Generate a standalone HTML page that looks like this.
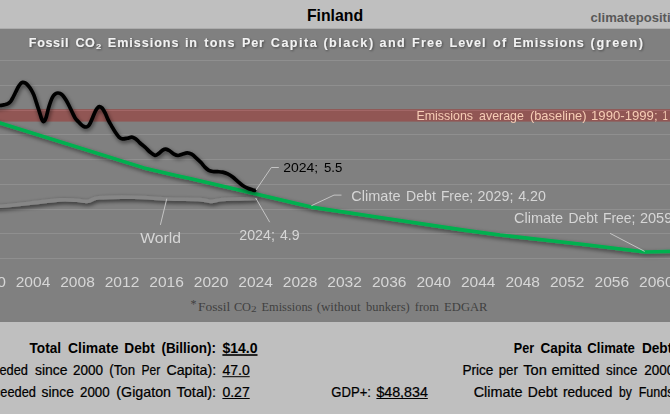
<!DOCTYPE html>
<html lang="en"><head><meta charset="utf-8"><title>Finland</title>
<style>html,body{margin:0;padding:0;background:#bfbfbf;overflow:hidden}body{width:670px;height:414px}svg text{white-space:pre}</style>
</head><body>
<svg width="670" height="414" viewBox="0 0 670 414" style="display:block">
<defs>
<filter id="sh" x="-5%" y="-20%" width="110%" height="150%"><feGaussianBlur in="SourceAlpha" stdDeviation="2"/><feOffset dx="0.5" dy="2.2"/><feComponentTransfer><feFuncA type="linear" slope="0.55"/></feComponentTransfer><feMerge><feMergeNode/><feMergeNode in="SourceGraphic"/></feMerge></filter>
<filter id="shw" x="-5%" y="-100%" width="110%" height="300%"><feGaussianBlur in="SourceAlpha" stdDeviation="1.9"/><feOffset dx="0.5" dy="1.5"/><feComponentTransfer><feFuncA type="linear" slope="0.72"/></feComponentTransfer><feMerge><feMergeNode/><feMergeNode in="SourceGraphic"/></feMerge></filter>
<filter id="sht" x="-2%" y="-30%" width="104%" height="180%"><feGaussianBlur in="SourceAlpha" stdDeviation="1.1"/><feOffset dx="0.6" dy="1.2"/><feComponentTransfer><feFuncA type="linear" slope="0.45"/></feComponentTransfer><feMerge><feMergeNode/><feMergeNode in="SourceGraphic"/></feMerge></filter>
<filter id="gs" x="0" y="0" width="100%" height="100%" filterUnits="userSpaceOnUse" primitiveUnits="userSpaceOnUse"><feOffset dx="0" dy="0"/></filter>
</defs>
<rect x="0" y="0" width="670" height="414" fill="#bfbfbf"/>
<rect x="0" y="28.7" width="670" height="293.3" fill="#808080"/>
<rect x="0" y="60" width="670" height="1" fill="#8f8f8f"/>
<rect x="0" y="85" width="670" height="1" fill="#8f8f8f"/>
<rect x="0" y="110" width="670" height="1" fill="#8f8f8f"/>
<rect x="0" y="134" width="670" height="1" fill="#8f8f8f"/>
<rect x="0" y="159" width="670" height="1" fill="#8f8f8f"/>
<rect x="0" y="184" width="670" height="1" fill="#8f8f8f"/>
<rect x="0" y="209" width="670" height="1" fill="#8f8f8f"/>
<rect x="0" y="233" width="670" height="1" fill="#8f8f8f"/>
<rect x="0" y="258" width="670" height="1" fill="#8f8f8f"/>
<rect x="-5" y="109.1" width="680" height="12.5" fill="#915654"/>
<rect x="0" y="110" width="670" height="1" fill="#a26666"/>
<path d="M-11.50,206.80 C-9.58,206.72 -6.92,206.90 0.00,206.30 C6.92,205.70 20.00,204.27 30.00,203.20 C40.00,202.13 52.17,200.38 60.00,199.90 C67.83,199.42 72.37,200.07 77.00,200.30 C81.63,200.53 84.13,201.72 87.80,201.30 C91.47,200.88 91.30,198.48 99.00,197.80 C106.70,197.12 122.50,197.00 134.00,197.20 C145.50,197.40 157.00,198.60 168.00,199.00 C179.00,199.40 192.83,199.20 200.00,199.60 C207.17,200.00 207.33,201.42 211.00,201.40 C214.67,201.38 217.17,199.92 222.00,199.50 C226.83,199.08 234.40,199.07 240.00,198.90 C245.60,198.73 253.00,198.57 255.60,198.50" fill="none" stroke="#868686" stroke-width="3.6" stroke-linecap="round" stroke-linejoin="round" filter="url(#shw)"/>
<path d="M-11.50,119.40 L0.00,123.00 L144.00,167.90 L176.00,175.40 L190.00,178.60 L254.00,193.40 L311.30,207.10 L380.00,217.50 L464.00,230.10 L500.00,235.00 L584.00,244.50 L645.20,252.00 L680.00,251.20" fill="none" stroke="#00b050" stroke-width="3.6" stroke-linecap="round" stroke-linejoin="round" filter="url(#sh)"/>
<path d="M-11.50,108.50 C-9.58,108.00 -2.55,106.10 0.00,105.50 C2.55,104.90 2.55,105.17 3.80,104.90 C5.05,104.63 6.35,104.48 7.50,103.90 C8.65,103.32 9.75,102.55 10.70,101.40 C11.65,100.25 12.37,98.57 13.20,97.00 C14.03,95.43 14.87,93.67 15.70,92.00 C16.53,90.33 17.37,88.43 18.20,87.00 C19.03,85.57 19.97,84.18 20.70,83.40 C21.43,82.62 21.87,82.38 22.60,82.30 C23.33,82.22 24.15,82.33 25.10,82.90 C26.05,83.47 27.25,84.50 28.30,85.70 C29.35,86.90 30.47,88.53 31.40,90.10 C32.33,91.67 33.07,93.00 33.90,95.10 C34.73,97.20 35.57,100.18 36.40,102.70 C37.23,105.22 38.07,107.62 38.90,110.20 C39.73,112.78 40.62,116.30 41.40,118.20 C42.18,120.10 42.85,121.60 43.60,121.60 C44.35,121.60 45.12,120.32 45.90,118.20 C46.68,116.08 47.47,111.80 48.30,108.90 C49.13,106.00 50.05,102.98 50.90,100.80 C51.75,98.62 52.57,97.02 53.40,95.80 C54.23,94.58 55.17,93.97 55.90,93.50 C56.63,93.03 57.12,93.02 57.80,93.00 C58.48,92.98 59.20,93.02 60.00,93.40 C60.80,93.78 61.60,94.20 62.60,95.30 C63.60,96.40 64.90,98.22 66.00,100.00 C67.10,101.78 68.15,103.92 69.20,106.00 C70.25,108.08 71.32,110.52 72.30,112.50 C73.28,114.48 74.12,116.38 75.10,117.90 C76.08,119.42 77.18,120.47 78.20,121.60 C79.22,122.73 80.27,123.88 81.20,124.70 C82.13,125.52 82.97,126.12 83.80,126.50 C84.63,126.88 85.45,127.08 86.20,127.00 C86.95,126.92 87.63,126.63 88.30,126.00 C88.97,125.37 89.43,124.70 90.20,123.20 C90.97,121.70 91.97,119.13 92.90,117.00 C93.83,114.87 94.97,111.98 95.80,110.40 C96.63,108.82 97.28,108.13 97.90,107.50 C98.52,106.87 98.80,106.52 99.50,106.60 C100.20,106.68 101.15,106.90 102.10,108.00 C103.05,109.10 104.17,111.18 105.20,113.20 C106.23,115.22 107.25,118.00 108.30,120.10 C109.35,122.20 110.35,123.80 111.50,125.80 C112.65,127.80 113.95,130.22 115.20,132.10 C116.45,133.98 117.78,135.97 119.00,137.10 C120.22,138.23 121.08,138.72 122.50,138.90 C123.92,139.08 125.95,138.50 127.50,138.20 C129.05,137.90 130.50,137.03 131.80,137.10 C133.10,137.17 134.35,138.05 135.30,138.60 C136.25,139.15 136.72,139.67 137.50,140.40 C138.28,141.13 138.75,141.88 140.00,143.00 C141.25,144.12 143.33,145.60 145.00,147.10 C146.67,148.60 148.35,150.63 150.00,152.00 C151.65,153.37 153.42,155.07 154.90,155.30 C156.38,155.53 157.60,154.27 158.90,153.40 C160.20,152.53 161.55,150.82 162.70,150.10 C163.85,149.38 164.65,148.98 165.80,149.10 C166.95,149.22 168.23,149.95 169.60,150.80 C170.97,151.65 172.60,153.42 174.00,154.20 C175.40,154.98 176.63,155.48 178.00,155.50 C179.37,155.52 180.67,154.73 182.20,154.30 C183.73,153.87 185.63,152.92 187.20,152.90 C188.77,152.88 190.03,153.30 191.60,154.20 C193.17,155.10 195.03,156.90 196.60,158.30 C198.17,159.70 199.58,161.08 201.00,162.60 C202.42,164.12 203.80,166.12 205.10,167.40 C206.40,168.68 207.52,169.62 208.80,170.30 C210.08,170.98 211.33,171.27 212.80,171.50 C214.27,171.73 215.97,171.60 217.60,171.70 C219.23,171.80 220.92,171.73 222.60,172.10 C224.28,172.47 226.02,173.08 227.70,173.90 C229.38,174.72 231.03,175.75 232.70,177.00 C234.37,178.25 236.03,179.98 237.70,181.40 C239.37,182.82 241.02,184.35 242.70,185.50 C244.38,186.65 246.12,187.57 247.80,188.30 C249.48,189.03 251.67,189.55 252.80,189.90 C253.93,190.25 254.30,190.32 254.60,190.40" fill="none" stroke="#000" stroke-width="3.7" stroke-linecap="round" stroke-linejoin="round" filter="url(#sh)"/>
<path d="M256,190 L271.3,167.5 H278.8" stroke="#c4c4c4" stroke-width="1" fill="none"/>
<path d="M311.4,205.7 L334,195.1 H341.5" stroke="#c4c4c4" stroke-width="1" fill="none"/>
<path d="M166.8,198.6 L160.4,224.9" stroke="#c4c4c4" stroke-width="1" fill="none"/>
<path d="M255.7,198 L269.7,222.2" stroke="#c4c4c4" stroke-width="1" fill="none"/>
<path d="M610,233.3 L644.7,251.4" stroke="#c4c4c4" stroke-width="1" fill="none"/>
<text y="21.0" font-family='"Liberation Sans", sans-serif' font-size="17" font-weight="bold" fill="#000" ><tspan x="306.9" textLength="56.2" lengthAdjust="spacingAndGlyphs">Finland</tspan></text>
<text y="21.6" font-family='"Liberation Sans", sans-serif' font-size="13.5" font-weight="bold" fill="#595959" ><tspan x="590.6" textLength="133.8" lengthAdjust="spacingAndGlyphs">climatepositions.com</tspan></text>
<text y="47.3" font-family='"Liberation Sans", sans-serif' font-size="12.6" font-weight="bold" fill="#f2f2f2" filter="url(#sht)"><tspan x="28.8" textLength="39.6" lengthAdjust="spacing">Fossil</tspan> <tspan x="75.6" textLength="19.3" lengthAdjust="spacing">CO</tspan><tspan x="95.9" dy="1.3" font-size="7.4" textLength="5.3" lengthAdjust="spacingAndGlyphs">2</tspan><tspan dy="-1.3" font-size="1"> </tspan> <tspan x="107.8" textLength="70.7" lengthAdjust="spacing">Emissions</tspan> <tspan x="185.0" textLength="12.0" lengthAdjust="spacing">in</tspan> <tspan x="204.3" textLength="30.1" lengthAdjust="spacing">tons</tspan> <tspan x="242.0" textLength="22.0" lengthAdjust="spacing">Per</tspan> <tspan x="270.8" textLength="45.9" lengthAdjust="spacing">Capita</tspan> <tspan x="323.4" textLength="49.7" lengthAdjust="spacing">(black)</tspan> <tspan x="379.6" textLength="25.1" lengthAdjust="spacing">and</tspan> <tspan x="412.0" textLength="30.3" lengthAdjust="spacing">Free</tspan> <tspan x="449.6" textLength="35.8" lengthAdjust="spacing">Level</tspan> <tspan x="493.0" textLength="13.3" lengthAdjust="spacing">of</tspan> <tspan x="513.2" textLength="70.6" lengthAdjust="spacing">Emissions</tspan> <tspan x="590.6" textLength="52.3" lengthAdjust="spacing">(green)</tspan></text>
<g filter="url(#gs)"><text y="120.3" font-family='"Liberation Sans", sans-serif' font-size="12.6" font-weight="normal" fill="#f7cdb5" ><tspan x="416.4" textLength="56.7" lengthAdjust="spacingAndGlyphs">Emissions</tspan> <tspan x="479.1" textLength="44.8" lengthAdjust="spacingAndGlyphs">average</tspan> <tspan x="529.9" textLength="56.7" lengthAdjust="spacingAndGlyphs">(baseline)</tspan> <tspan x="591.0" textLength="66.6" lengthAdjust="spacingAndGlyphs">1990-1999;</tspan> <tspan x="662.6" textLength="5.4" lengthAdjust="spacingAndGlyphs">1</tspan></text></g>
<g filter="url(#gs)">
<text y="171.8" font-family='"Liberation Sans", sans-serif' font-size="13.7" font-weight="normal" fill="#000" ><tspan x="283.2" textLength="35.0" lengthAdjust="spacingAndGlyphs">2024;</tspan> <tspan x="324.0" textLength="18.3" lengthAdjust="spacingAndGlyphs">5.5</tspan></text>
<text y="200.8" font-family='"Liberation Sans", sans-serif' font-size="14.2" font-weight="normal" fill="#d6d6d6" ><tspan x="351.3" textLength="49.2" lengthAdjust="spacingAndGlyphs">Climate</tspan> <tspan x="406.1" textLength="29.7" lengthAdjust="spacingAndGlyphs">Debt</tspan> <tspan x="440.9" textLength="32.3" lengthAdjust="spacingAndGlyphs">Free;</tspan> <tspan x="477.6" textLength="35.8" lengthAdjust="spacingAndGlyphs">2029;</tspan> <tspan x="518.2" textLength="27.7" lengthAdjust="spacingAndGlyphs">4.20</tspan></text>
<text y="222.7" font-family='"Liberation Sans", sans-serif' font-size="14.2" font-weight="normal" fill="#d6d6d6" ><tspan x="514.0" textLength="49.2" lengthAdjust="spacingAndGlyphs">Climate</tspan> <tspan x="568.6" textLength="29.2" lengthAdjust="spacingAndGlyphs">Debt</tspan> <tspan x="602.9" textLength="32.5" lengthAdjust="spacingAndGlyphs">Free;</tspan> <tspan x="639.9" textLength="32.4" lengthAdjust="spacingAndGlyphs">2059</tspan></text>
<text y="242.8" font-family='"Liberation Sans", sans-serif' font-size="14.2" font-weight="normal" fill="#d6d6d6" ><tspan x="140.3" textLength="40.7" lengthAdjust="spacingAndGlyphs">World</tspan></text>
<text y="240.0" font-family='"Liberation Sans", sans-serif' font-size="14.0" font-weight="normal" fill="#d6d6d6" ><tspan x="239.3" textLength="35.6" lengthAdjust="spacingAndGlyphs">2024;</tspan> <tspan x="279.9" textLength="19.6" lengthAdjust="spacingAndGlyphs">4.9</tspan></text>
<text y="286.9" font-family='"Liberation Sans", sans-serif' font-size="15.5" font-weight="normal" fill="#d6d6d6" ><tspan x="-28.8" textLength="34.6" lengthAdjust="spacingAndGlyphs">2000</tspan> <tspan x="15.7" textLength="34.6" lengthAdjust="spacingAndGlyphs">2004</tspan> <tspan x="60.2" textLength="34.6" lengthAdjust="spacingAndGlyphs">2008</tspan> <tspan x="104.7" textLength="34.6" lengthAdjust="spacingAndGlyphs">2012</tspan> <tspan x="149.3" textLength="34.6" lengthAdjust="spacingAndGlyphs">2016</tspan> <tspan x="193.8" textLength="34.6" lengthAdjust="spacingAndGlyphs">2020</tspan> <tspan x="238.3" textLength="34.6" lengthAdjust="spacingAndGlyphs">2024</tspan> <tspan x="282.8" textLength="34.6" lengthAdjust="spacingAndGlyphs">2028</tspan> <tspan x="327.3" textLength="34.6" lengthAdjust="spacingAndGlyphs">2032</tspan> <tspan x="371.9" textLength="34.6" lengthAdjust="spacingAndGlyphs">2036</tspan> <tspan x="416.4" textLength="34.6" lengthAdjust="spacingAndGlyphs">2040</tspan> <tspan x="460.9" textLength="34.6" lengthAdjust="spacingAndGlyphs">2044</tspan> <tspan x="505.4" textLength="34.6" lengthAdjust="spacingAndGlyphs">2048</tspan> <tspan x="549.9" textLength="34.6" lengthAdjust="spacingAndGlyphs">2052</tspan> <tspan x="594.5" textLength="34.6" lengthAdjust="spacingAndGlyphs">2056</tspan> <tspan x="639.0" textLength="34.6" lengthAdjust="spacingAndGlyphs">2060</tspan></text>
</g>
<text x="190.6" y="308.2" font-family='"Liberation Serif", serif' font-size="12" fill="#404040">*</text>
<text y="310.6" font-family='"Liberation Serif", serif' font-size="12.6" font-weight="normal" fill="#404040" ><tspan x="198.0" textLength="32.2" lengthAdjust="spacingAndGlyphs">Fossil</tspan> <tspan x="233.9" textLength="17.1" lengthAdjust="spacingAndGlyphs">CO</tspan><tspan x="251" dy="1.8" font-size="8.6" textLength="5.6" lengthAdjust="spacingAndGlyphs">2</tspan><tspan dy="-1.8" font-size="1"> </tspan> <tspan x="261.5" textLength="50.9" lengthAdjust="spacingAndGlyphs">Emissions</tspan> <tspan x="316.7" textLength="43.9" lengthAdjust="spacingAndGlyphs">(without</tspan> <tspan x="365.9" textLength="43.8" lengthAdjust="spacingAndGlyphs">bunkers)</tspan> <tspan x="414.8" textLength="24.3" lengthAdjust="spacingAndGlyphs">from</tspan> <tspan x="444.1" textLength="43.4" lengthAdjust="spacingAndGlyphs">EDGAR</tspan></text>
<text y="352.6" font-family='"Liberation Sans", sans-serif' font-size="13.9" font-weight="bold" fill="#000" ><tspan x="29.6" textLength="31.4" lengthAdjust="spacingAndGlyphs">Total</tspan> <tspan x="68.0" textLength="50.4" lengthAdjust="spacingAndGlyphs">Climate</tspan> <tspan x="124.3" textLength="30.4" lengthAdjust="spacingAndGlyphs">Debt</tspan> <tspan x="161.4" textLength="54.7" lengthAdjust="spacingAndGlyphs">(Billion):</tspan> <tspan x="222.4" textLength="35.1" lengthAdjust="spacingAndGlyphs">$14.0</tspan></text>
<text x="28" y="374.6" text-anchor="end" font-family='"Liberation Sans", sans-serif' font-size="13.9" fill="#000" stroke="#000" stroke-width="0.22" textLength="57" lengthAdjust="spacingAndGlyphs">Exceeded</text>
<text y="374.6" font-family='"Liberation Sans", sans-serif' font-size="13.9" font-weight="normal" fill="#000" stroke="#000" stroke-width="0.22"><tspan x="35.0" textLength="32.6" lengthAdjust="spacingAndGlyphs">since</tspan> <tspan x="73.0" textLength="30.0" lengthAdjust="spacingAndGlyphs">2000</tspan> <tspan x="109.3" textLength="25.8" lengthAdjust="spacingAndGlyphs">(Ton</tspan> <tspan x="141.4" textLength="18.8" lengthAdjust="spacingAndGlyphs">Per</tspan> <tspan x="166.4" textLength="49.7" lengthAdjust="spacingAndGlyphs">Capita):</tspan> <tspan x="222.4" textLength="27.3" lengthAdjust="spacingAndGlyphs">47.0</tspan></text>
<text x="36" y="396.5" text-anchor="end" font-family='"Liberation Sans", sans-serif' font-size="13.9" fill="#000" stroke="#000" stroke-width="0.22" textLength="57" lengthAdjust="spacingAndGlyphs">Exceeded</text>
<text y="396.5" font-family='"Liberation Sans", sans-serif' font-size="13.9" font-weight="normal" fill="#000" stroke="#000" stroke-width="0.22"><tspan x="41.6" textLength="32.4" lengthAdjust="spacingAndGlyphs">since</tspan> <tspan x="80.0" textLength="29.6" lengthAdjust="spacingAndGlyphs">2000</tspan> <tspan x="116.3" textLength="54.7" lengthAdjust="spacingAndGlyphs">(Gigaton</tspan> <tspan x="176.5" textLength="39.6" lengthAdjust="spacingAndGlyphs">Total):</tspan> <tspan x="222.4" textLength="27.3" lengthAdjust="spacingAndGlyphs">0.27</tspan></text>
<text y="396.5" font-family='"Liberation Sans", sans-serif' font-size="13.9" font-weight="normal" fill="#000" stroke="#000" stroke-width="0.22"><tspan x="331.3" textLength="39.6" lengthAdjust="spacingAndGlyphs">GDP+:</tspan> <tspan x="376.4" textLength="51.4" lengthAdjust="spacingAndGlyphs">$48,834</tspan></text>
<rect x="222.4" y="354.2" width="35.1" height="1.6" fill="#000"/>
<rect x="222.4" y="376.2" width="27.3" height="1" fill="#000"/>
<rect x="222.4" y="398" width="27.3" height="1" fill="#000"/>
<rect x="376.4" y="398" width="51.4" height="1" fill="#000"/>
<text y="352.6" font-family='"Liberation Sans", sans-serif' font-size="13.9" font-weight="bold" fill="#000" ><tspan x="513.8" textLength="20.3" lengthAdjust="spacingAndGlyphs">Per</tspan> <tspan x="540.4" textLength="41.3" lengthAdjust="spacingAndGlyphs">Capita</tspan> <tspan x="587.3" textLength="47.6" lengthAdjust="spacingAndGlyphs">Climate</tspan> <tspan x="641.9" textLength="30.4" lengthAdjust="spacingAndGlyphs">Debt</tspan></text>
<text y="374.6" font-family='"Liberation Sans", sans-serif' font-size="13.9" font-weight="normal" fill="#000" stroke="#000" stroke-width="0.22"><tspan x="462.4" textLength="31.0" lengthAdjust="spacingAndGlyphs">Price</tspan> <tspan x="498.7" textLength="19.2" lengthAdjust="spacingAndGlyphs">per</tspan> <tspan x="523.3" textLength="23.6" lengthAdjust="spacingAndGlyphs">Ton</tspan> <tspan x="551.4" textLength="48.4" lengthAdjust="spacingAndGlyphs">emitted</tspan> <tspan x="606.0" textLength="31.4" lengthAdjust="spacingAndGlyphs">since</tspan> <tspan x="644.2" textLength="30.0" lengthAdjust="spacingAndGlyphs">2000</tspan></text>
<text y="396.5" font-family='"Liberation Sans", sans-serif' font-size="13.9" font-weight="normal" fill="#000" stroke="#000" stroke-width="0.22"><tspan x="473.7" textLength="48.7" lengthAdjust="spacingAndGlyphs">Climate</tspan> <tspan x="527.8" textLength="29.5" lengthAdjust="spacingAndGlyphs">Debt</tspan> <tspan x="562.9" textLength="49.4" lengthAdjust="spacingAndGlyphs">reduced</tspan> <tspan x="619.1" textLength="12.8" lengthAdjust="spacingAndGlyphs">by</tspan> <tspan x="638.7" textLength="34.8" lengthAdjust="spacingAndGlyphs">Funds</tspan></text>
</svg>
</body></html>
